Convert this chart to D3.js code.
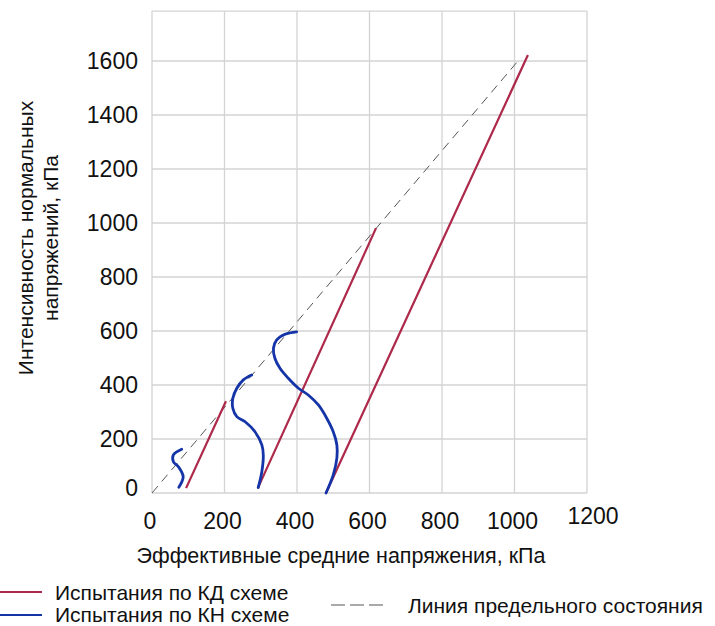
<!DOCTYPE html>
<html>
<head>
<meta charset="utf-8">
<script src="https://cdn.jsdelivr.net/npm/d3@7"></script>
<style>
  body { margin: 0; background: #fff; }
  text { font-family: "Liberation Sans", Arial, sans-serif; fill: #111; }
</style>
</head>
<body>
<div id="chart"></div>
<script>
const width = 715;
const height = 626;

// mean effective stress p' (kPa) vs deviator q (kPa)
const xTicks = [0, 200, 400, 600, 800, 1000, 1200];
const yTicks = [0, 200, 400, 600, 800, 1000, 1200, 1400, 1600];

// drained (КД) stress paths
const kdPath1 = [[94, 18], [204, 340]];
const kdPath2 = [[292, 18], [618, 981]];
const kdPath3 = [[480, 0], [1037, 1622]];

// undrained (КН) stress paths
const knPath1 = [[74, 21], [86, 60], [73, 97], [59, 116], [59, 141], [82, 162]];
const knPath2 = [[293, 20], [303, 79], [307, 141], [303, 178], [284, 227], [257, 264],
  [234, 283], [223, 314], [223, 351], [234, 388], [252, 419], [275, 437]];
const knPath3 = [[480, 0], [500, 67], [510, 129], [510, 178], [500, 227], [482, 277],
  [459, 326], [431, 363], [404, 388], [376, 425], [353, 462], [339, 499], [335, 536],
  [344, 567], [367, 588], [399, 597]];

// critical state line
const limitLine = [[0, 0], [1007, 1596]];

const redColor = "#ad2849";
const blueColor = "#1434a8";

const x = d3.scaleLinear().domain([0, 1200]).range([152, 587]);
const y = d3.scaleLinear().domain([0, 1600]).range([493, 61]);
const yTop = 1785;

const svg = d3.select("#chart")
    .append("svg")
    .attr("width", width)
    .attr("height", height);

// grid
svg.append("g")
    .selectAll("line")
    .data(xTicks)
    .enter()
    .append("line")
    .attr("x1", d => x(d))
    .attr("x2", d => x(d))
    .attr("y1", y(0))
    .attr("y2", y(yTop))
    .attr("stroke", "#d3d3d3")
    .attr("stroke-width", 1.3);

svg.append("g")
    .selectAll("line")
    .data(yTicks.concat([yTop]))
    .enter()
    .append("line")
    .attr("x1", x(0))
    .attr("x2", x(1200))
    .attr("y1", d => y(d))
    .attr("y2", d => y(d))
    .attr("stroke", "#d3d3d3")
    .attr("stroke-width", 1.3);

// tick labels
svg.append("g")
    .selectAll("text")
    .data(yTicks)
    .enter()
    .append("text")
    .attr("x", 138)
    .attr("y", d => y(d) - (d === 0 ? 5 : 0))
    .attr("dy", "0.36em")
    .attr("text-anchor", "end")
    .style("font-size", "23px")
    .text(d => d);

svg.append("g")
    .selectAll("text")
    .data(xTicks)
    .enter()
    .append("text")
    .attr("x", d => x(d) + (d === 1200 ? 6 : -2))
    .attr("y", d => d === 1200 ? 524 : 529)
    .attr("text-anchor", "middle")
    .style("font-size", "23px")
    .text(d => d);

// axis titles
svg.append("text")
    .attr("x", 341)
    .attr("y", 563)
    .attr("text-anchor", "middle")
    .style("font-size", "21.5px")
    .text("Эффективные средние напряжения, кПа");

const yTitle = svg.append("text")
    .attr("transform", "translate(33, 238) rotate(-90)")
    .attr("text-anchor", "middle")
    .style("font-size", "21px");
yTitle.append("tspan").attr("x", 0).attr("y", 0).text("Интенсивность нормальных");
yTitle.append("tspan").attr("x", 0).attr("y", 25).text("напряжений, кПа");

// lines
const line = d3.line()
    .x(d => x(d[0]))
    .y(d => y(d[1]));

const curve = d3.line()
    .x(d => x(d[0]))
    .y(d => y(d[1]))
    .curve(d3.curveCatmullRom.alpha(0.5));

svg.append("path")
    .attr("d", line(limitLine))
    .attr("fill", "none")
    .attr("stroke", "#555")
    .attr("stroke-width", 1)
    .attr("stroke-dasharray", "9,6");

[kdPath1, kdPath2, kdPath3].forEach(p => {
    svg.append("path")
        .attr("d", line(p))
        .attr("fill", "none")
        .attr("stroke", redColor)
        .attr("stroke-width", 2.2);
});

[knPath1, knPath2, knPath3].forEach(p => {
    svg.append("path")
        .attr("d", curve(p))
        .attr("fill", "none")
        .attr("stroke", blueColor)
        .attr("stroke-width", 2.8)
        .attr("stroke-linecap", "round");
});

// legend
const legend = svg.append("g");
legend.append("line")
    .attr("x1", 0).attr("x2", 42).attr("y1", 592).attr("y2", 592)
    .attr("stroke", redColor).attr("stroke-width", 2);
legend.append("text")
    .attr("x", 55).attr("y", 592).attr("dy", "0.36em")
    .style("font-size", "21px")
    .text("Испытания по КД схеме");
legend.append("line")
    .attr("x1", 0).attr("x2", 42).attr("y1", 615).attr("y2", 615)
    .attr("stroke", blueColor).attr("stroke-width", 2);
legend.append("text")
    .attr("x", 55).attr("y", 614).attr("dy", "0.36em")
    .style("font-size", "21px")
    .text("Испытания по КН схеме");
legend.append("line")
    .attr("x1", 331).attr("x2", 386).attr("y1", 605).attr("y2", 605)
    .attr("stroke", "#555").attr("stroke-width", 1)
    .attr("stroke-dasharray", "14,5");
legend.append("text")
    .attr("x", 408).attr("y", 605).attr("dy", "0.36em")
    .style("font-size", "21px")
    .text("Линия предельного состояния");
</script>
</body>
</html>
